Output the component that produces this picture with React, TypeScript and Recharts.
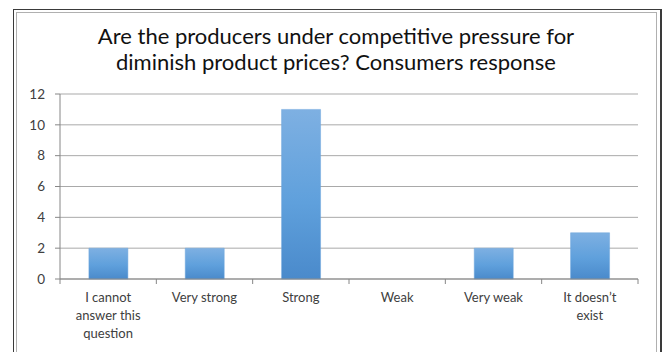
import React from "react";
import { BarChart, Bar, XAxis, YAxis, CartesianGrid } from "recharts";

const categories = [
  "I cannot\nanswer this\nquestion",
  "Very strong",
  "Strong",
  "Weak",
  "Very weak",
  "It doesn\u2019t\nexist",
];
const responses = [2, 2, 11, 0, 2, 3];
const yTicks = [0, 2, 4, 6, 8, 10, 12];
const titleLines = [
  "Are the producers under competitive pressure for",
  "diminish product prices? Consumers response",
];

const data = categories.map((c, i) => ({ category: c, value: responses[i] }));

const FONT = "Lato, 'Open Sans', sans-serif";
const AXIS = "#868686";
const TEXT = "#404040";

const XTick = (props: any) => {
  const { x, y, payload, index, visibleTicksCount } = props;
  const half = payload && payload.offset ? payload.offset : 48;
  const lines = String(payload.value).split("\n");
  const axisY = y - 8;
  const last = index === (visibleTicksCount ?? categories.length) - 1;
  return (
    <g>
      <line x1={x - half} x2={x - half} y1={axisY} y2={axisY + 5} stroke={AXIS} />
      {last && <line x1={x + half} x2={x + half} y1={axisY} y2={axisY + 5} stroke={AXIS} />}
      <text x={x} y={axisY + 23} textAnchor="middle" fontSize={13} fontFamily={FONT} fill={TEXT}>
        {lines.map((l, i) => (
          <tspan key={i} x={x} dy={i === 0 ? 0 : 18}>
            {l}
          </tspan>
        ))}
      </text>
    </g>
  );
};

export default function App() {
  return (
    <div style={{ position: "absolute", left: 0, top: 0, width: 664, height: 352, background: "#fff", overflow: "hidden" }}>
      <div style={{ position: "absolute", left: 13, top: 9, width: 649, height: 400, border: "1.5px solid #3a3a3a", borderRightWidth: 2, boxSizing: "border-box" }} />
      <div style={{ position: "absolute", left: 16, top: 12, width: 641, height: 400, border: "1.5px solid #b0b0b0", boxSizing: "border-box" }} />
      <div style={{ position: "absolute", left: 0, top: 23, width: 672, textAlign: "center", fontFamily: FONT, fontSize: 22, fontWeight: 400, lineHeight: "26px", color: "#111" }}>
        {titleLines.map((t, i) => (
          <div key={i}>{t}</div>
        ))}
      </div>
      <div style={{ position: "absolute", left: 0, top: 0 }}>
        <BarChart width={664} height={352} data={data} margin={{ top: 94, right: 26, bottom: 0, left: 0 }} barCategoryGap="30%">
          <defs>
            <linearGradient id="barGrad" x1="0" y1="0" x2="0" y2="1">
              <stop offset="0%" stopColor="#7eb0e2" />
              <stop offset="55%" stopColor="#5fa0dc" />
              <stop offset="100%" stopColor="#4a8acb" />
            </linearGradient>
          </defs>
          <CartesianGrid horizontal vertical={false} stroke="#a9a9a9" />
          <XAxis
            dataKey="category"
            height={73}
            interval={0}
            axisLine={{ stroke: AXIS }}
            tickLine={false}
            tick={<XTick />}
          />
          <YAxis
            width={60}
            domain={[0, 12]}
            ticks={yTicks}
            interval={0}
            axisLine={{ stroke: AXIS }}
            tickLine={{ stroke: AXIS }}
            tickSize={5}
            tickMargin={10}
            tick={{ fontSize: 13.5, fontFamily: FONT, fill: TEXT }}
          />
          <Bar dataKey="value" fill="url(#barGrad)" stroke="#6fa6dc" strokeWidth={0.5} isAnimationActive={false} />
        </BarChart>
      </div>
    </div>
  );
}
